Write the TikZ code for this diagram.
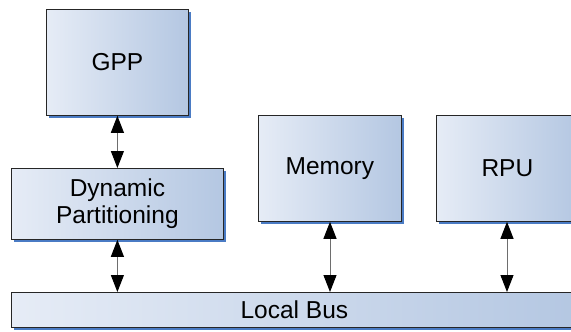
\documentclass[tikz,border=0pt]{standalone}
\usepackage{fontspec}
\setmainfont{Liberation Sans}
\usetikzlibrary{arrows.meta,shadows}
\definecolor{boxlight}{HTML}{E6ECF6}
\definecolor{boxdark}{HTML}{B4C7E2}
\definecolor{shadowblue}{HTML}{4A7BC4}
\definecolor{linkgray}{HTML}{6E6E6E}
\tikzset{
  block/.style={draw=black!85, line width=0.8pt, inner sep=0pt, anchor=north west,
    left color=boxlight, right color=boxdark,
    drop shadow={fill=shadowblue, opacity=1, shadow xshift=3pt, shadow yshift=-3pt},
    font=\fontsize{24.5}{27}\selectfont, align=center},
  link/.style={draw=linkgray, line width=1pt,
    {Triangle[length=17pt,width=13pt,fill=black,color=black]}-{Triangle[length=17pt,width=13pt,fill=black,color=black]}}
}
\begin{document}
\begin{tikzpicture}[x=1pt,y=-1pt]
  \useasboundingbox (0,0) rectangle (571,332);
  \clip (0,0) rectangle (571,332);
  % processing elements
  \node[block, minimum width=142pt, minimum height=106pt] (gpp) at (46,9) {GPP};
  \node[block, minimum width=212pt, minimum height=71pt] (dp) at (11,168) {Dynamic\\Partitioning};
  \node[block, minimum width=143pt, minimum height=106pt] (mem) at (258,115) {Memory};
  \node[block, minimum width=142pt, minimum height=106pt] (rpu) at (436,115) {RPU};
  % shared bus
  \node[block, minimum width=566pt, minimum height=35pt] (bus) at (11,292) {Local Bus};
  % connections
  \draw[link] (gpp.south) -- (dp.north);
  \draw[link] (dp.south) -- (dp.south |- bus.north);
  \draw[link] (mem.south -| 330,0) -- (330,0 |- bus.north);
  \draw[link] (rpu.south -| 507,0) -- (507,0 |- bus.north);
\end{tikzpicture}
\end{document}
